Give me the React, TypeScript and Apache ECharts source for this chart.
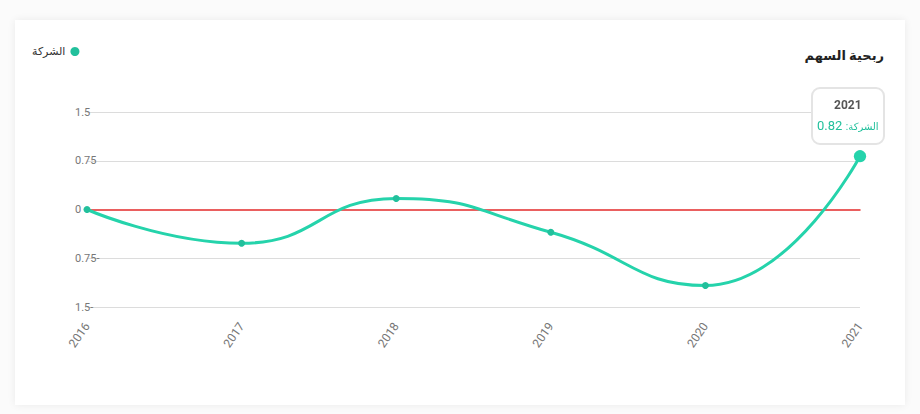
import React, { useEffect, useRef } from "react";
import * as echarts from "echarts";

const years = ["2016", "2017", "2018", "2019", "2020", "2021"];
const eps = [0, -0.52, 0.17, -0.35, -1.17, 0.82];
const seriesName = "الشركة";
const chartTitle = "ربحية السهم";
const TEAL = "#22c09c";
const RED = "#e32b2b";
const FONT = 'Roboto, "DejaVu Sans", sans-serif';

export default function App() {
  const ref = useRef<HTMLDivElement>(null);
  useEffect(() => {
    if (!ref.current) return;
    const chart = echarts.init(ref.current, undefined, { renderer: "svg" });
    chart.setOption({
      animation: false,
      textStyle: { fontFamily: FONT },
      title: {
        text: chartTitle,
        right: 16,
        top: 24,
        textStyle: { fontSize: 13, fontWeight: "bold", color: "#222", fontFamily: FONT },
      },
      legend: {
        left: 12,
        top: 21,
        align: "right",
        icon: "circle",
        itemWidth: 9,
        itemHeight: 9,
        itemGap: 4,
        textStyle: { fontSize: 11, color: "#333", fontFamily: FONT },
        data: [seriesName],
      },
      tooltip: {
        trigger: "item",
        backgroundColor: "#fff",
        borderColor: "#e4e4e4",
        borderWidth: 2,
        padding: [6, 4],
        extraCssText: "box-shadow:none;border-radius:9px;",
        position: (point: number[], _p: any, _d: any, _r: any, size: any) => [
          point[0] - size.contentSize[0] / 2 - 12,
          point[1] - size.contentSize[1] - 11,
        ],
        formatter: (p: any) =>
          `<div dir="rtl" style="text-align:center;font-family:${FONT.replace(/"/g, "'")}">` +
          `<div style="font-weight:bold;color:#555;font-size:12px;line-height:20px">${p.name}</div>` +
          `<div style="color:${TEAL};line-height:20px"><span style="font-size:10px">${p.seriesName}:</span> <span style="font-size:13px">${p.value}</span></div>` +
          `</div>`,
      },
      grid: { left: 72, right: 45, top: 92, bottom: 98 },
      xAxis: [
        {
          type: "category",
          data: years,
          boundaryGap: false,
          axisLine: { show: false, onZero: false },
          axisTick: { show: false },
          axisLabel: { rotate: 55, margin: 17, color: "#777", fontSize: 12 },
        },
        {
          type: "category",
          data: years,
          position: "bottom",
          boundaryGap: false,
          axisLine: { show: true, onZero: true, lineStyle: { color: RED, width: 1.5 } },
          axisTick: { show: false },
          axisLabel: { show: false },
          splitLine: { show: false },
          z: 2,
        },
      ],
      yAxis: {
        type: "value",
        min: -1.5,
        max: 1.5,
        interval: 0.75,
        axisLine: { show: false },
        axisTick: { show: false },
        splitLine: {
          lineStyle: { color: ["#dcdcdc", "#dcdcdc", "rgba(0,0,0,0)", "#dcdcdc", "#dcdcdc"], width: 1 },
        },
        axisLabel: {
          align: "left",
          margin: 12,
          color: "#777",
          fontSize: 11,
          formatter: (v: number) => (v < 0 ? `${Math.abs(v)}-` : `${v}`),
        },
      },
      series: [
        {
          name: seriesName,
          type: "line",
          data: eps,
          xAxisIndex: 0,
          smooth: true,
          symbol: "circle",
          symbolSize: 7,
          itemStyle: { color: TEAL },
          lineStyle: { color: TEAL, width: 3 },
          emphasis: { scale: 1.75, lineStyle: { width: 3 } },
          z: 3,
        },
      ],
    });
    chart.dispatchAction({ type: "showTip", seriesIndex: 0, dataIndex: eps.length - 1 });
    chart.dispatchAction({ type: "highlight", seriesIndex: 0, dataIndex: eps.length - 1 });
    return () => chart.dispose();
  }, []);

  return (
    <div style={{ position: "fixed", left: 0, top: 0, width: 920, height: 414, background: "#fbfbfb" }}>
      <div
        style={{
          position: "absolute",
          left: 15,
          top: 20,
          width: 890,
          height: 385,
          background: "#fff",
          boxShadow: "0 0 8px rgba(0,0,0,0.07)",
        }}
      >
        <div ref={ref} style={{ width: 890, height: 385 }} />
      </div>
    </div>
  );
}
